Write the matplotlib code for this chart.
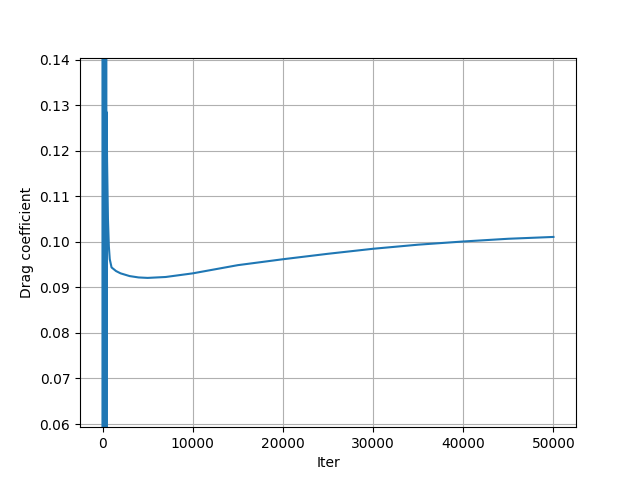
import matplotlib
matplotlib.use("Agg")
import matplotlib.pyplot as plt

# early iterations: solver still oscillating wildly (values far outside the view)
iters_early = [0, 25, 50, 75, 100, 125, 150, 175, 200, 225, 250, 275,
               300, 325, 350, 375, 400, 425]
cd_early = [0.45, -0.30, 0.52, -0.25, 0.40, -0.35, 0.48, -0.20, 0.38, -0.28,
            0.44, -0.22, 0.36, -0.18, 0.30, -0.15, 0.28, -0.10]

# settled part of the run
iters_late = [450, 500, 600, 700, 800, 1000, 1500, 2000, 3000, 4000, 5000,
              7000, 10000, 15000, 20000, 25000, 30000, 35000, 40000, 45000, 50000]
cd_late = [0.1285, 0.118, 0.105, 0.0990, 0.0962, 0.0944, 0.0936, 0.0931,
           0.0925, 0.0922, 0.0921, 0.0923, 0.0931, 0.0949, 0.0962, 0.0974,
           0.0985, 0.0994, 0.1001, 0.1007, 0.1011]

iters = iters_early + iters_late
cd = cd_early + cd_late

fig, ax = plt.subplots(figsize=(6.4, 4.8))
ax.plot(iters, cd)
ax.set_xlabel("Iter")
ax.set_ylabel("Drag coefficient")
ax.set_ylim(0.0593, 0.1405)
ax.grid(True)
plt.savefig("out.png", dpi=100)
